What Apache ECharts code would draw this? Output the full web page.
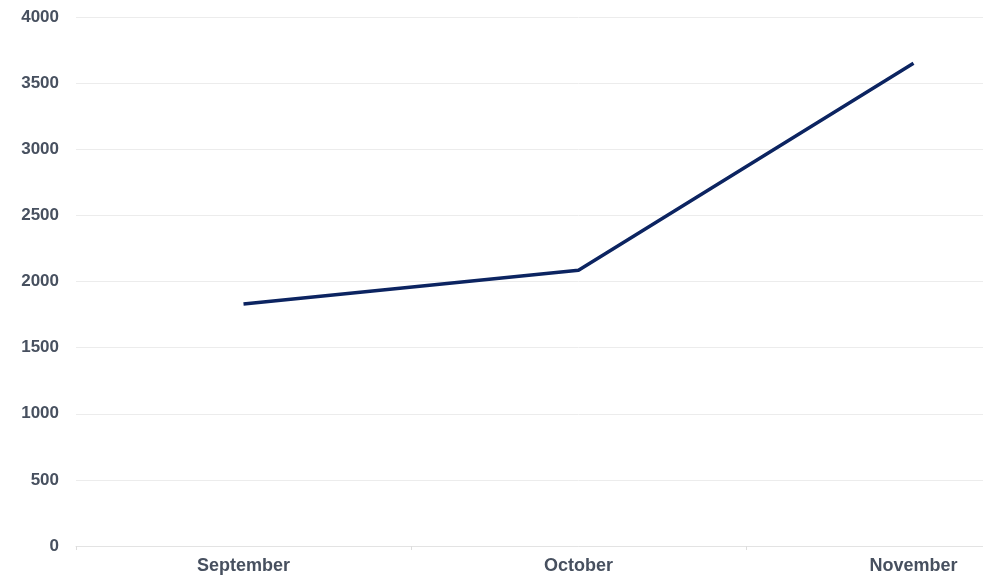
<!DOCTYPE html>
<html>
<head>
<meta charset="utf-8">
<script src="https://cdn.jsdelivr.net/npm/echarts@6/dist/echarts.min.js"></script>
<style>
  html, body { margin: 0; padding: 0; background: #fff; overflow: hidden; width: 983px; height: 580px; }
  /* the plot runs past the right edge in the original, so the canvas is wider than the window */
  #chart { width: 1100px; height: 580px; }
</style>
</head>
<body>
<div id="chart"></div>
<script>
var months = ['September', 'October', 'November'];
var totals = [1830, 2085, 3650];

var labelColor = '#47505f';
var chart = echarts.init(document.getElementById('chart'));
chart.setOption({
    animation: false,
    grid: { left: 76, right: 19, top: 17, bottom: 34, containLabel: false },
    xAxis: {
        type: 'category',
        data: months,
        boundaryGap: true,
        axisLine: { lineStyle: { color: '#e3e3e3', width: 1 } },
        axisTick: { show: true, length: 4, lineStyle: { color: '#dddddd' } },
        axisLabel: { color: labelColor, fontFamily: 'Liberation Sans, Arial', fontWeight: 'bold', fontSize: 18, margin: 11 }
    },
    yAxis: {
        type: 'value',
        min: 0,
        max: 4000,
        interval: 500,
        axisLine: { show: false },
        axisTick: { show: false },
        splitLine: { lineStyle: { color: '#ececec', width: 1 } },
        axisLabel: {
            color: labelColor, fontFamily: 'Liberation Sans, Arial', fontWeight: 'bold', fontSize: 17, margin: 17,
            formatter: function (v) { return String(v); }
        }
    },
    series: [{
        type: 'line',
        data: totals,
        showSymbol: false,
        symbol: 'none',
        lineStyle: { color: '#0c2461', width: 3.5 }
    }]
});
</script>
</body>
</html>
